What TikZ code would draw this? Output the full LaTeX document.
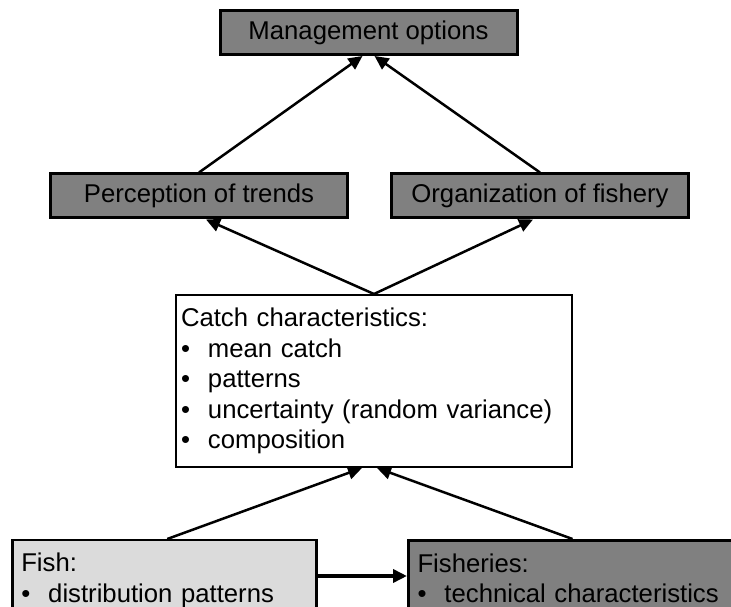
\documentclass[tikz,border=0pt]{standalone}
\usepackage{fontspec}
\setmainfont{Liberation Sans}
\usetikzlibrary{arrows.meta}

\tikzset{
	box/.style={draw,line width=3pt,fill=black!50,minimum width=297pt,minimum height=44pt,inner sep=0pt,font=\fontsize{25.7}{30.5}\selectfont},
	listbox/.style={draw,line width=2pt,align=left,inner xsep=5pt,inner ysep=13pt,font=\fontsize{25.7}{30.5}\selectfont},
	link/.style={-{Triangle[length=14pt,width=13pt]},line width=2.5pt}
}
\newcommand{\bul}{\makebox[27pt][l]{\textbullet}}

\begin{document}
\begin{tikzpicture}[x=1pt,y=1pt]
	\clip (0,0) rectangle (731,607);
	\fill[white] (0,0) rectangle (731,607);

	\node[box] (mgmt) at (368.5,574.5) {Management options};
	\node[box] (perc) at (199,411) {Perception of trends};
	\node[box] (org) at (540,411) {Organization of fishery};

	\node[listbox,fill=white,text width=386pt,minimum height=166pt] (catch) at (374,226)
		{Catch characteristics:\\ \bul mean catch\\ \bul patterns\\ \bul uncertainty (random variance)\\ \bul composition};

	\node[listbox,fill=black!14,line width=2.5pt,inner xsep=9pt,text width=286pt,anchor=north west] (fish) at (11,68)
		{Fish:\\ \bul distribution patterns};
	\node[listbox,fill=black!50,line width=3pt,inner xsep=9pt,text width=312pt,anchor=north west] (fishery) at (407,68)
		{Fisheries:\\ \bul technical characteristics};
	\coordinate (mid) at (0,31);

	\draw[link] (perc.north) -- ([xshift=-6pt]mgmt.south);
	\draw[link] (org.north) -- ([xshift=6pt]mgmt.south);
	\draw[link] (catch.north) -- ([xshift=7pt]perc.south);
	\draw[link] (catch.north) -- ([xshift=-7pt]org.south);
	\draw[link] ([xshift=3pt]fish.north) -- ([xshift=-12pt]catch.south);
	\draw[link] ([xshift=-1pt]fishery.north) -- ([xshift=3pt]catch.south);
	\draw[link,line width=3.5pt] (fish.east |- mid) -- (fishery.west |- mid);
\end{tikzpicture}
\end{document}
